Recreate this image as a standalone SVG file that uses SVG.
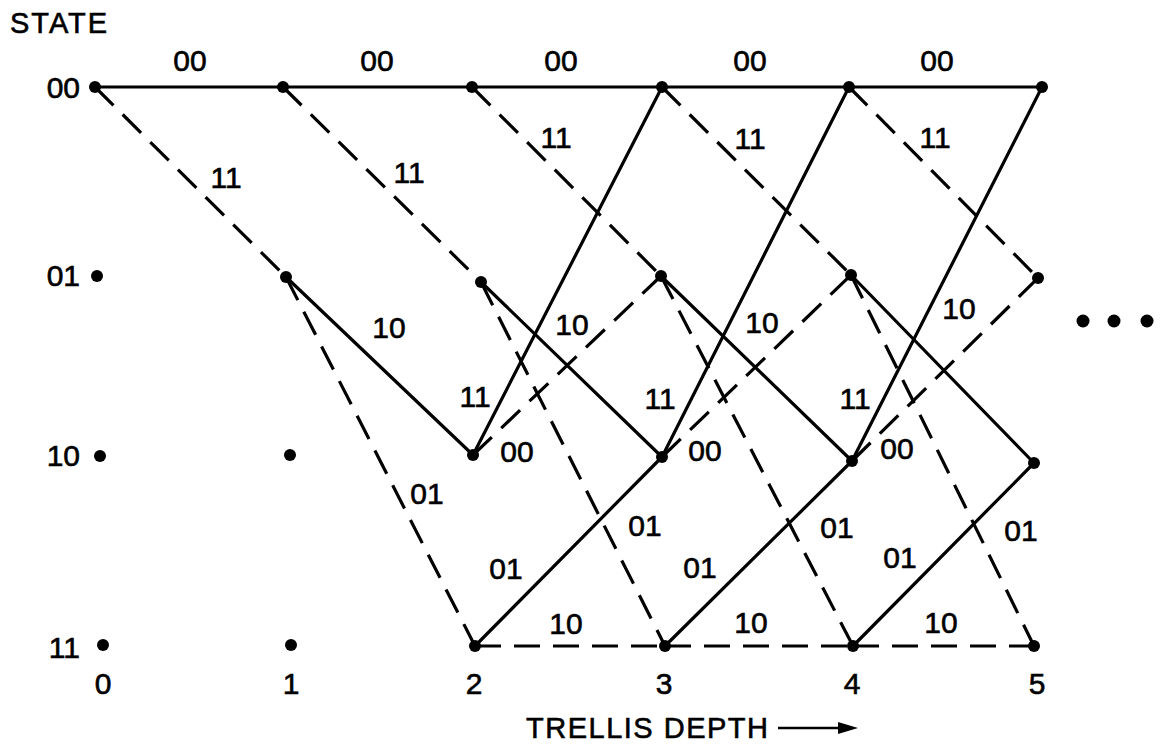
<svg xmlns="http://www.w3.org/2000/svg" width="1163" height="745" viewBox="0 0 1163 745">
<style>
  .bg{fill:#ffffff}
  .s{stroke:#000;stroke-width:3.2;fill:none;stroke-linecap:round}
  .d{stroke:#000;stroke-width:3.2;fill:none;stroke-dasharray:26 13}
  .n{fill:#000}
  text{font-family:"Liberation Sans",Arial,Helvetica,sans-serif;font-size:30px;fill:#000;stroke:#000;stroke-width:0.6}
  .lbl{text-anchor:middle}
  .st{text-anchor:end}
</style>
<rect class="bg" x="0" y="0" width="1163" height="745"/>
<g id="connectors">
  <!-- 0 -> 1 -->
  <line class="s" x1="95" y1="87" x2="283" y2="87"/>
  <line class="d" x1="95" y1="87" x2="286" y2="277"/>
  <!-- 1 -> 2 -->
  <line class="s" x1="283" y1="87" x2="472" y2="87"/>
  <line class="d" x1="283" y1="87" x2="481" y2="282"/>
  <line class="s" x1="286" y1="277" x2="473" y2="455"/>
  <line class="d" x1="286" y1="277" x2="475" y2="646"/>
  <!-- 2 -> 3 -->
  <line class="s" x1="472" y1="87" x2="662" y2="87"/>
  <line class="d" x1="472" y1="87" x2="661" y2="276"/>
  <line class="s" x1="481" y1="282" x2="662" y2="457"/>
  <line class="d" x1="481" y1="282" x2="665" y2="646"/>
  <line class="s" x1="473" y1="455" x2="662" y2="87"/>
  <line class="d" x1="473" y1="455" x2="661" y2="276"/>
  <line class="s" x1="475" y1="646" x2="662" y2="457"/>
  <line class="d" x1="475" y1="646" x2="665" y2="646"/>
  <!-- 3 -> 4 -->
  <line class="s" x1="662" y1="87" x2="849" y2="87"/>
  <line class="d" x1="662" y1="87" x2="851" y2="275"/>
  <line class="s" x1="661" y1="276" x2="852" y2="461"/>
  <line class="d" x1="661" y1="276" x2="853" y2="646"/>
  <line class="s" x1="662" y1="457" x2="849" y2="87"/>
  <line class="d" x1="662" y1="457" x2="851" y2="275"/>
  <line class="s" x1="665" y1="646" x2="852" y2="461"/>
  <line class="d" x1="665" y1="646" x2="853" y2="646"/>
  <!-- 4 -> 5 -->
  <line class="s" x1="849" y1="87" x2="1042" y2="87"/>
  <line class="d" x1="849" y1="87" x2="1038" y2="278"/>
  <line class="s" x1="851" y1="275" x2="1034" y2="463"/>
  <line class="d" x1="851" y1="275" x2="1034" y2="646"/>
  <line class="s" x1="852" y1="461" x2="1042" y2="87"/>
  <line class="d" x1="852" y1="461" x2="1038" y2="278"/>
  <line class="s" x1="853" y1="646" x2="1034" y2="463"/>
  <line class="d" x1="853" y1="646" x2="1034" y2="646"/>
  <!-- labels -->
  <g class="lbl">
    <text x="190" y="71">00</text>
    <text x="377" y="71">00</text>
    <text x="561" y="71">00</text>
    <text x="750" y="71">00</text>
    <text x="937" y="71">00</text>
    <text x="226" y="188">11</text>
    <text x="409" y="183">11</text>
    <text x="556" y="148">11</text>
    <text x="750" y="149">11</text>
    <text x="935" y="148">11</text>
    <text x="389" y="338">10</text>
    <text x="572" y="335">10</text>
    <text x="762" y="333">10</text>
    <text x="959" y="319">10</text>
    <text x="475" y="407">11</text>
    <text x="660" y="409">11</text>
    <text x="855" y="409">11</text>
    <text x="517" y="462">00</text>
    <text x="705" y="461">00</text>
    <text x="897" y="459">00</text>
    <text x="427" y="504">01</text>
    <text x="645" y="536">01</text>
    <text x="837" y="538">01</text>
    <text x="1021" y="541">01</text>
    <text x="506" y="579">01</text>
    <text x="700" y="578">01</text>
    <text x="900" y="568">01</text>
    <text x="566" y="634">10</text>
    <text x="751" y="633">10</text>
    <text x="941" y="633">10</text>
  </g>
</g>
<g id="n0-00"><circle class="n" cx="95" cy="87" r="6"/></g>
<g id="n0-01"><circle class="n" cx="97" cy="276" r="6"/></g>
<g id="n0-10"><circle class="n" cx="100" cy="456" r="6"/></g>
<g id="n0-11"><circle class="n" cx="103" cy="645" r="6"/></g>
<g id="n1-00"><circle class="n" cx="283" cy="87" r="6"/></g>
<g id="n1-01"><circle class="n" cx="286" cy="277" r="6"/></g>
<g id="n1-10"><circle class="n" cx="290" cy="455" r="6"/></g>
<g id="n1-11"><circle class="n" cx="291" cy="645" r="6"/></g>
<g id="n2-00"><circle class="n" cx="472" cy="87" r="6"/></g>
<g id="n2-01"><circle class="n" cx="481" cy="282" r="6"/></g>
<g id="n2-10"><circle class="n" cx="473" cy="455" r="6"/></g>
<g id="n2-11"><circle class="n" cx="475" cy="646" r="6"/></g>
<g id="n3-00"><circle class="n" cx="662" cy="87" r="6"/></g>
<g id="n3-01"><circle class="n" cx="661" cy="276" r="6"/></g>
<g id="n3-10"><circle class="n" cx="662" cy="457" r="6"/></g>
<g id="n3-11"><circle class="n" cx="665" cy="646" r="6"/></g>
<g id="n4-00"><circle class="n" cx="849" cy="87" r="6"/></g>
<g id="n4-01"><circle class="n" cx="851" cy="275" r="6"/></g>
<g id="n4-10"><circle class="n" cx="852" cy="461" r="6"/></g>
<g id="n4-11"><circle class="n" cx="853" cy="646" r="6"/></g>
<g id="n5-00"><circle class="n" cx="1042" cy="87" r="6"/></g>
<g id="n5-01"><circle class="n" cx="1038" cy="278" r="6"/></g>
<g id="n5-10"><circle class="n" cx="1034" cy="463" r="6"/></g>
<g id="n5-11"><circle class="n" cx="1034" cy="646" r="6"/></g>
<g id="ellipsis">
  <circle class="n" cx="1083" cy="321" r="6.5"/>
  <circle class="n" cx="1114" cy="321" r="6.5"/>
  <circle class="n" cx="1147" cy="321" r="6.5"/>
</g>
<g id="state-axis">
  <text x="10" y="33" style="font-size:29px;letter-spacing:2px">STATE</text>
  <text class="st" x="80" y="98">00</text>
  <text class="st" x="80" y="286">01</text>
  <text class="st" x="80" y="466">10</text>
  <text class="st" x="80" y="658">11</text>
</g>
<g id="depth-axis">
  <g class="lbl">
    <text x="103" y="694">0</text>
    <text x="291" y="694">1</text>
    <text x="474" y="694">2</text>
    <text x="664" y="694">3</text>
    <text x="852" y="694">4</text>
    <text x="1037" y="694">5</text>
  </g>
  <text x="526" y="738" style="font-size:29px;letter-spacing:1.5px">TRELLIS DEPTH</text>
  <line x1="778" y1="728" x2="842" y2="728" stroke="#000" stroke-width="2.5"/>
  <polygon class="n" points="838,722 858,728 838,734"/>
</g>
</svg>
